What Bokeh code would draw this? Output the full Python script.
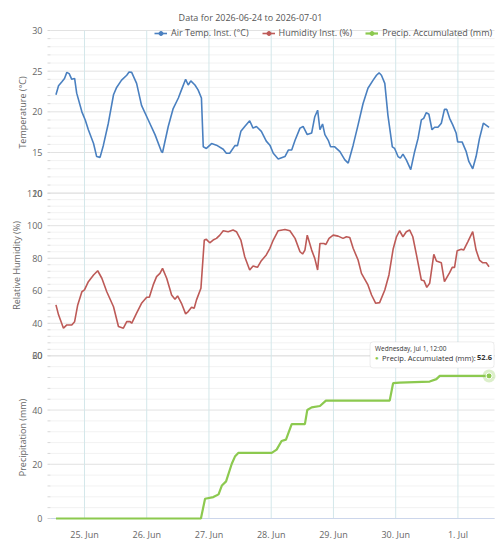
import math
import pandas as pd
from bokeh.plotting import figure
from bokeh.models import (Range1d, Legend, LegendItem, Label, BoxAnnotation, ColumnDataSource)
from bokeh.core.properties import value
from bokeh.embed import file_html
from bokeh.resources import INLINE

# ---------------------------------------------------------------- data
START = pd.Timestamp("2026-06-24 00:00")

# hours after START
temp_hours = [13.0, 14.0, 15.3, 16.3, 17.2, 18.1, 19.1, 20.2, 21.0, 23.0, 24.3, 25.5, 27.5, 28.7,
              30.0, 31.3, 33.2, 35.2, 36.4, 38.3, 40.3, 41.2, 42.2, 44.1, 46.0, 48.6, 51.2, 53.7,
              54.1, 56.3, 58.2, 60.2, 61.4, 63.0, 64.0, 65.0, 66.6, 67.8, 69.1, 69.8, 71.0, 73.0,
              74.9, 77.5, 78.7, 80.0, 82.0, 83.0, 84.3, 85.8, 87.7, 89.0, 90.3, 92.2, 94.1, 95.5,
              96.8, 98.7, 101.3, 102.6, 103.9, 105.2, 107.1, 108.3, 109.9, 111.6, 112.8, 113.9,
              114.8, 115.8, 116.7, 118.0, 118.9, 120.5, 122.5, 124.4, 125.7, 127.6, 129.5, 131.4,
              133.3, 135.3, 136.6, 137.6, 138.5, 139.8, 141.0, 142.7, 143.6, 144.9, 145.8, 146.8,
              148.1, 149.8, 151.3, 152.6, 153.9, 154.8, 155.8, 156.8, 158.0, 159.0, 160.3, 161.6,
              162.8, 163.7, 164.8, 166.0, 167.3, 167.9, 169.6, 171.2, 172.2, 173.7, 175.0, 176.3,
              177.8, 180.0]
temp_c = [22.1, 23.2, 23.7, 24.1, 24.85, 24.7, 24.0, 24.1, 22.3, 20.0, 19.0, 17.8, 16.1, 14.5,
          14.4, 15.9, 18.6, 22.1, 23.0, 23.9, 24.5, 24.9, 24.85, 23.5, 20.8, 19.0, 17.2, 15.1,
          15.0, 18.2, 20.4, 21.7, 22.7, 24.0, 23.3, 23.8, 23.3, 22.7, 21.7, 15.7, 15.5, 16.1,
          15.9, 15.4, 14.9, 14.9, 15.85, 15.85, 17.6, 18.2, 18.9, 18.0, 18.2, 17.6, 16.4, 15.9,
          14.9, 14.2, 14.5, 15.3, 15.3, 16.5, 18.0, 18.2, 17.2, 17.4, 19.4, 20.2,
          17.8, 18.5, 17.2, 16.5, 15.7, 15.7, 15.1, 14.1, 13.7, 15.9, 18.4, 21.0,
          22.9, 23.9, 24.5, 24.8, 24.5, 23.5, 19.6, 15.7, 15.5, 14.5, 14.3, 14.8,
          14.1, 12.9, 15.1, 16.7, 19.0, 19.2, 19.9, 19.7, 17.8, 18.1, 18.1, 18.6,
          20.3, 20.3, 19.2, 18.4, 17.4, 16.3, 16.3, 15.1, 13.9, 13.0, 14.5, 16.7,
          18.6, 18.1]

hum_hours = [13.0, 14.0, 15.9, 17.2, 19.1, 20.2, 21.4, 23.0, 24.0, 25.5, 27.5, 29.1, 30.7, 32.6,
             35.2, 37.1, 39.0, 40.3, 41.6, 42.2, 44.1, 46.0, 48.0, 49.0, 50.5, 51.8, 53.1, 54.1,
             55.7, 57.6, 58.9, 59.9, 61.4, 63.0, 64.0, 65.3, 66.3, 67.2, 68.9, 70.2, 71.0, 72.3,
             73.6, 74.9, 76.2, 77.5, 79.4, 81.3, 82.6, 84.3, 85.8, 87.7, 89.0, 90.7, 92.2, 94.1,
             95.5, 96.8, 98.7, 101.3, 103.2, 105.2, 107.1, 108.1, 109.0, 109.9, 111.6, 112.8,
             113.9, 114.8, 116.3, 117.1, 118.3, 119.9, 121.8, 123.7, 125.0, 126.3, 127.6, 129.5,
             130.8, 133.3, 134.7, 136.3, 137.8, 139.8, 141.4, 143.0, 144.3, 145.5, 146.8, 148.1,
             149.4, 150.6, 151.9, 153.9, 154.9, 156.0, 157.1, 158.7, 159.7, 161.6, 162.8, 164.8,
             165.8, 166.7, 167.7, 169.3, 170.2, 171.8, 173.7, 175.0, 176.3, 177.6, 178.9, 180.0]
hum_pct = [51.3, 45.2, 37.0, 39.0, 39.0, 41.0, 51.3, 59.4, 60.5, 65.6, 69.7, 72.3, 67.7, 59.4,
           50.2, 38.0, 37.0, 41.0, 41.0, 40.0, 46.2, 52.3, 56.0, 56.0, 63.6, 68.7, 70.7, 73.8,
           67.7, 57.4, 54.8, 56.8, 52.3, 45.8, 47.2, 49.9, 49.2, 54.4, 61.5, 91.2, 91.6, 89.5,
           91.2, 92.2, 94.2, 96.9, 96.3, 97.3, 96.3, 91.2, 80.9, 72.8, 75.2, 74.4, 78.5, 82.0,
           86.1, 91.2, 96.9, 97.7, 96.9, 92.2, 84.0, 82.6, 85.0, 94.2, 85.0, 79.9,
           72.8, 89.1, 89.1, 88.5, 92.2, 94.2, 93.6, 92.2, 93.2, 92.8, 86.1, 78.9,
           70.7, 63.6, 57.4, 52.3, 52.7, 60.5, 69.7, 85.5, 93.2, 96.9, 93.2, 96.3,
           97.3, 93.2, 83.0, 66.6, 66.2, 62.1, 64.6, 82.4, 78.3, 77.2, 65.6, 71.1,
           74.4, 74.4, 84.6, 85.5, 85.0, 90.1, 96.3, 85.0, 78.9, 77.2, 77.2, 74.8]

precip_hours = [13.0, 68.9, 70.5, 73.7, 75.7, 77.0, 78.6, 80.8, 82.1, 83.3, 96.2, 98.1, 100.0,
                101.7, 103.9, 109.0, 109.9, 111.6, 114.8, 117.1, 141.7, 143.0, 145.5, 157.1,
                159.7, 161.0, 180.0]
precip_mm = [0.0, 0.0, 7.3, 7.9, 8.9, 12.2, 13.7, 20.2, 23.0, 24.2, 24.2, 25.4, 28.6,
             29.1, 34.8, 34.8, 40.0, 41.0, 41.5, 43.5, 43.5, 49.9, 50.1, 50.5,
             51.4, 52.6, 52.6]

day_ticks = ["2026-06-25", "2026-06-26", "2026-06-27", "2026-06-28",
             "2026-06-29", "2026-06-30", "2026-07-01"]

temp_ticks = [10, 15, 20, 25, 30]
hum_ticks = [20, 40, 60, 80, 100, 120]
precip_ticks = [0, 20, 40, 60]

TITLE = "Data for 2026-06-24 to 2026-07-01"
TEMP_NAME = "Air Temp. Inst. (°C)"
HUM_NAME = "Humidity Inst. (%)"
PRECIP_NAME = "Precip. Accumulated (mm)"

# ---------------------------------------------------------------- layout / style
FONT = "Open Sans"
GREY = "#666666"
BLUE = "#4a80c0"
RED = "#bd5a57"
GREEN = "#8cc94f"

W, H = 500, 550
PL, PR, PT, PB = 50, 494, 30, 518      # plot area edges on the page
H_LO, H_HI = 10.9, 182.1               # hours shown at the left / right plot edge
PANE = 60.0                            # height of one pane in layout units
PX_H = (PR - PL) / (H_HI - H_LO)       # pixels per hour
PX_U = (PB - PT) / (3 * PANE)          # pixels per layout unit

panes = {  # slot 0 is the bottom pane
    "precip": dict(ticks=precip_ticks, minor=4, slot=0),
    "hum": dict(ticks=hum_ticks, minor=4, slot=1),
    "temp": dict(ticks=temp_ticks, minor=1, slot=2),
}


def hours_to_ms(h):
    return (START + pd.Timedelta(hours=h)).value / 1e6


def px_x(px):
    """page x pixel -> x data value (ms)"""
    return hours_to_ms(H_LO + (px - PL) / PX_H)


def px_y(py):
    """page y pixel -> layout value"""
    return 3 * PANE - (py - PT) / PX_U


def to_layout(v, name):
    pn = panes[name]
    lo, hi = pn["ticks"][0], pn["ticks"][-1]
    return round((pn["slot"] + (v - lo) / (hi - lo)) * PANE, 6)


def from_layout(L, name):
    pn = panes[name]
    lo, hi = pn["ticks"][0], pn["ticks"][-1]
    return lo + (L / PANE - pn["slot"]) * (hi - lo)


def to_times(hours):
    return START + pd.to_timedelta(hours, unit="h")


Y_MIN, Y_MAX = px_y(H), px_y(0)
p = figure(width=W, height=H, x_axis_type="datetime",
           x_range=Range1d(px_x(0), px_x(W)), y_range=Range1d(Y_MIN, Y_MAX),
           x_axis_location=None, y_axis_location=None,
           output_backend="svg", toolbar_location=None, min_border=0)
p.outline_line_color = None
p.grid.visible = False
p.background_fill_color = "white"
p.border_fill_color = "white"
p.extra_y_ranges = {name: Range1d(from_layout(Y_MIN, name), from_layout(Y_MAX, name))
                    for name in panes}

x_left, x_right = px_x(PL), px_x(PR)
y_bottom, y_top = to_layout(precip_ticks[0], "precip"), to_layout(temp_ticks[-1], "temp")

# ---------------------------------------------------------------- grid and ticks
major_pos, major_txt, minor_pos = [], [], []
for name, pn in panes.items():
    for t in pn["ticks"]:
        major_pos.append(to_layout(t, name))
        major_txt.append(str(t))
    v = pn["ticks"][0]
    while v < pn["ticks"][-1]:
        if v not in pn["ticks"]:
            minor_pos.append(to_layout(v, name))
        v += pn["minor"]

day_ms = [pd.Timestamp(d).value / 1e6 for d in day_ticks]
day_txt = [pd.Timestamp(d).strftime("%-d. %b") for d in day_ticks]

p.segment(x0=x_left, x1=x_right, y0=minor_pos, y1=minor_pos, line_color="#f2f2f2", line_width=1)
p.segment(x0=x_left, x1=x_right, y0=major_pos, y1=major_pos, line_color="#e2e2e2", line_width=1)
p.segment(x0=day_ms, x1=day_ms, y0=y_bottom, y1=y_top, line_color="#d3e7ea", line_width=1)
p.segment(x0=x_left, x1=x_right, y0=y_bottom, y1=y_bottom, line_color="#ccd6eb", line_width=1)

# short tick marks left of the plot area
p.segment(x0=px_x(PL - 3), x1=x_left, y0=minor_pos, y1=minor_pos, line_color="#d8d8d8")
p.segment(x0=px_x(PL - 3), x1=x_left, y0=major_pos, y1=major_pos, line_color="#d8d8d8")

p.text(x=[px_x(PL - 8)] * len(major_pos), y=major_pos, text=major_txt,
       text_align="right", text_baseline="middle", text_font=value(FONT),
       text_font_size="9px", text_color=GREY)
p.text(x=day_ms, y=[px_y(PB + 16)] * len(day_ms), text=day_txt,
       text_align="center", text_baseline="middle", text_font=value(FONT),
       text_font_size="9px", text_color=GREY)

# axis titles, one per pane
for txt, tx, ty in [("Temperature (°C)", 22, 112),
                    ("Relative Humidity (%)", 16, 265),
                    ("Precipitation (mm)", 22, 437)]:
    p.text(x=[px_x(tx)], y=[px_y(ty)], text=[txt], angle=math.pi / 2,
           text_align="center", text_baseline="middle", text_font=value(FONT),
           text_font_size="9px", text_color=GREY)

p.text(x=[px_x(W / 2)], y=[px_y(17)], text=[TITLE], text_align="center",
       text_baseline="middle", text_font=value(FONT), text_font_size="9px",
       text_color="#555555")

# ---------------------------------------------------------------- series
src_t = ColumnDataSource(dict(t=to_times(temp_hours), v=temp_c))
src_h = ColumnDataSource(dict(t=to_times(hum_hours), v=hum_pct))
src_p = ColumnDataSource(dict(t=to_times(precip_hours), v=precip_mm))

tl = p.line("t", "v", source=src_t, y_range_name="temp", line_color=BLUE, line_width=1.6)
hl = p.line("t", "v", source=src_h, y_range_name="hum", line_color=RED, line_width=1.6)
pl = p.line("t", "v", source=src_p, y_range_name="precip", line_color=GREEN, line_width=2.2)

# hidden markers, only shown as legend symbols
tm = p.scatter("t", "v", source=src_t, y_range_name="temp", size=5, color=BLUE, visible=False)
hm = p.scatter("t", "v", source=src_h, y_range_name="hum", size=5, color=RED, visible=False)
pm = p.scatter("t", "v", source=src_p, y_range_name="precip", size=5, color=GREEN, visible=False)

legend = Legend(items=[LegendItem(label=TEMP_NAME, renderers=[tl, tm]),
                       LegendItem(label=HUM_NAME, renderers=[hl, hm]),
                       LegendItem(label=PRECIP_NAME, renderers=[pl, pm])],
                orientation="horizontal", location=(154, H - 39),
                label_text_font=FONT, label_text_font_size="9px", label_text_color="#555555",
                glyph_width=13, glyph_height=10, label_height=12, label_standoff=4,
                spacing=13, padding=0, margin=0, inactive_fill_alpha=0,
                background_fill_alpha=0, border_line_color=None)
p.add_layout(legend)

# ---------------------------------------------------------------- hovered point + tooltip
last_h = precip_hours[-1]
last_v = precip_mm[-1]
last_t = to_times([last_h])[0]
last_src = ColumnDataSource(dict(t=[last_t], v=[last_v]))

lx = hours_to_ms(last_h)
ly = to_layout(last_v, "precip")
px_per_ms = PX_H / 3.6e6

p.add_layout(BoxAnnotation(left=lx - 119 / px_per_ms, right=lx + 5 / px_per_ms,
                           bottom=ly + 8 / PX_U, top=ly + 34 / PX_U,
                           fill_color="white", fill_alpha=0.95,
                           line_color="#c4c4c4", line_width=1, border_radius=3))
p.scatter("t", "v", source=last_src, y_range_name="precip", size=13,
          fill_color=GREEN, fill_alpha=0.3, line_color=None)
p.scatter("t", "v", source=last_src, y_range_name="precip", size=6,
          fill_color=GREEN, line_color="white", line_width=1)

value_txt = f"{last_v}"
p.add_layout(Label(x=lx, y=last_v, y_range_name="precip", x_offset=-114, y_offset=27,
                   text=last_t.strftime("%A, %b %-d, %H:%M"), text_font=FONT,
                   text_font_size="6.5px", text_color="#333333",
                   text_align="left", text_baseline="middle"))
p.add_layout(Label(x=lx, y=last_v, y_range_name="precip", x_offset=-114, y_offset=18,
                   text="\u25cf", text_font=FONT, text_font_size="6px", text_color=GREEN,
                   text_align="left", text_baseline="middle"))
p.add_layout(Label(x=lx, y=last_v, y_range_name="precip", x_offset=-107, y_offset=18,
                   text=f"{PRECIP_NAME}:", text_font=FONT, text_font_size="7.5px",
                   text_color="#333333", text_align="left", text_baseline="middle"))
p.add_layout(Label(x=lx, y=last_v, y_range_name="precip", x_offset=3, y_offset=18,
                   text=value_txt, text_font=FONT, text_font_size="7.5px",
                   text_font_style="bold", text_color="#333333",
                   text_align="right", text_baseline="middle"))

open("out.html", "w").write(file_html(p, INLINE))
